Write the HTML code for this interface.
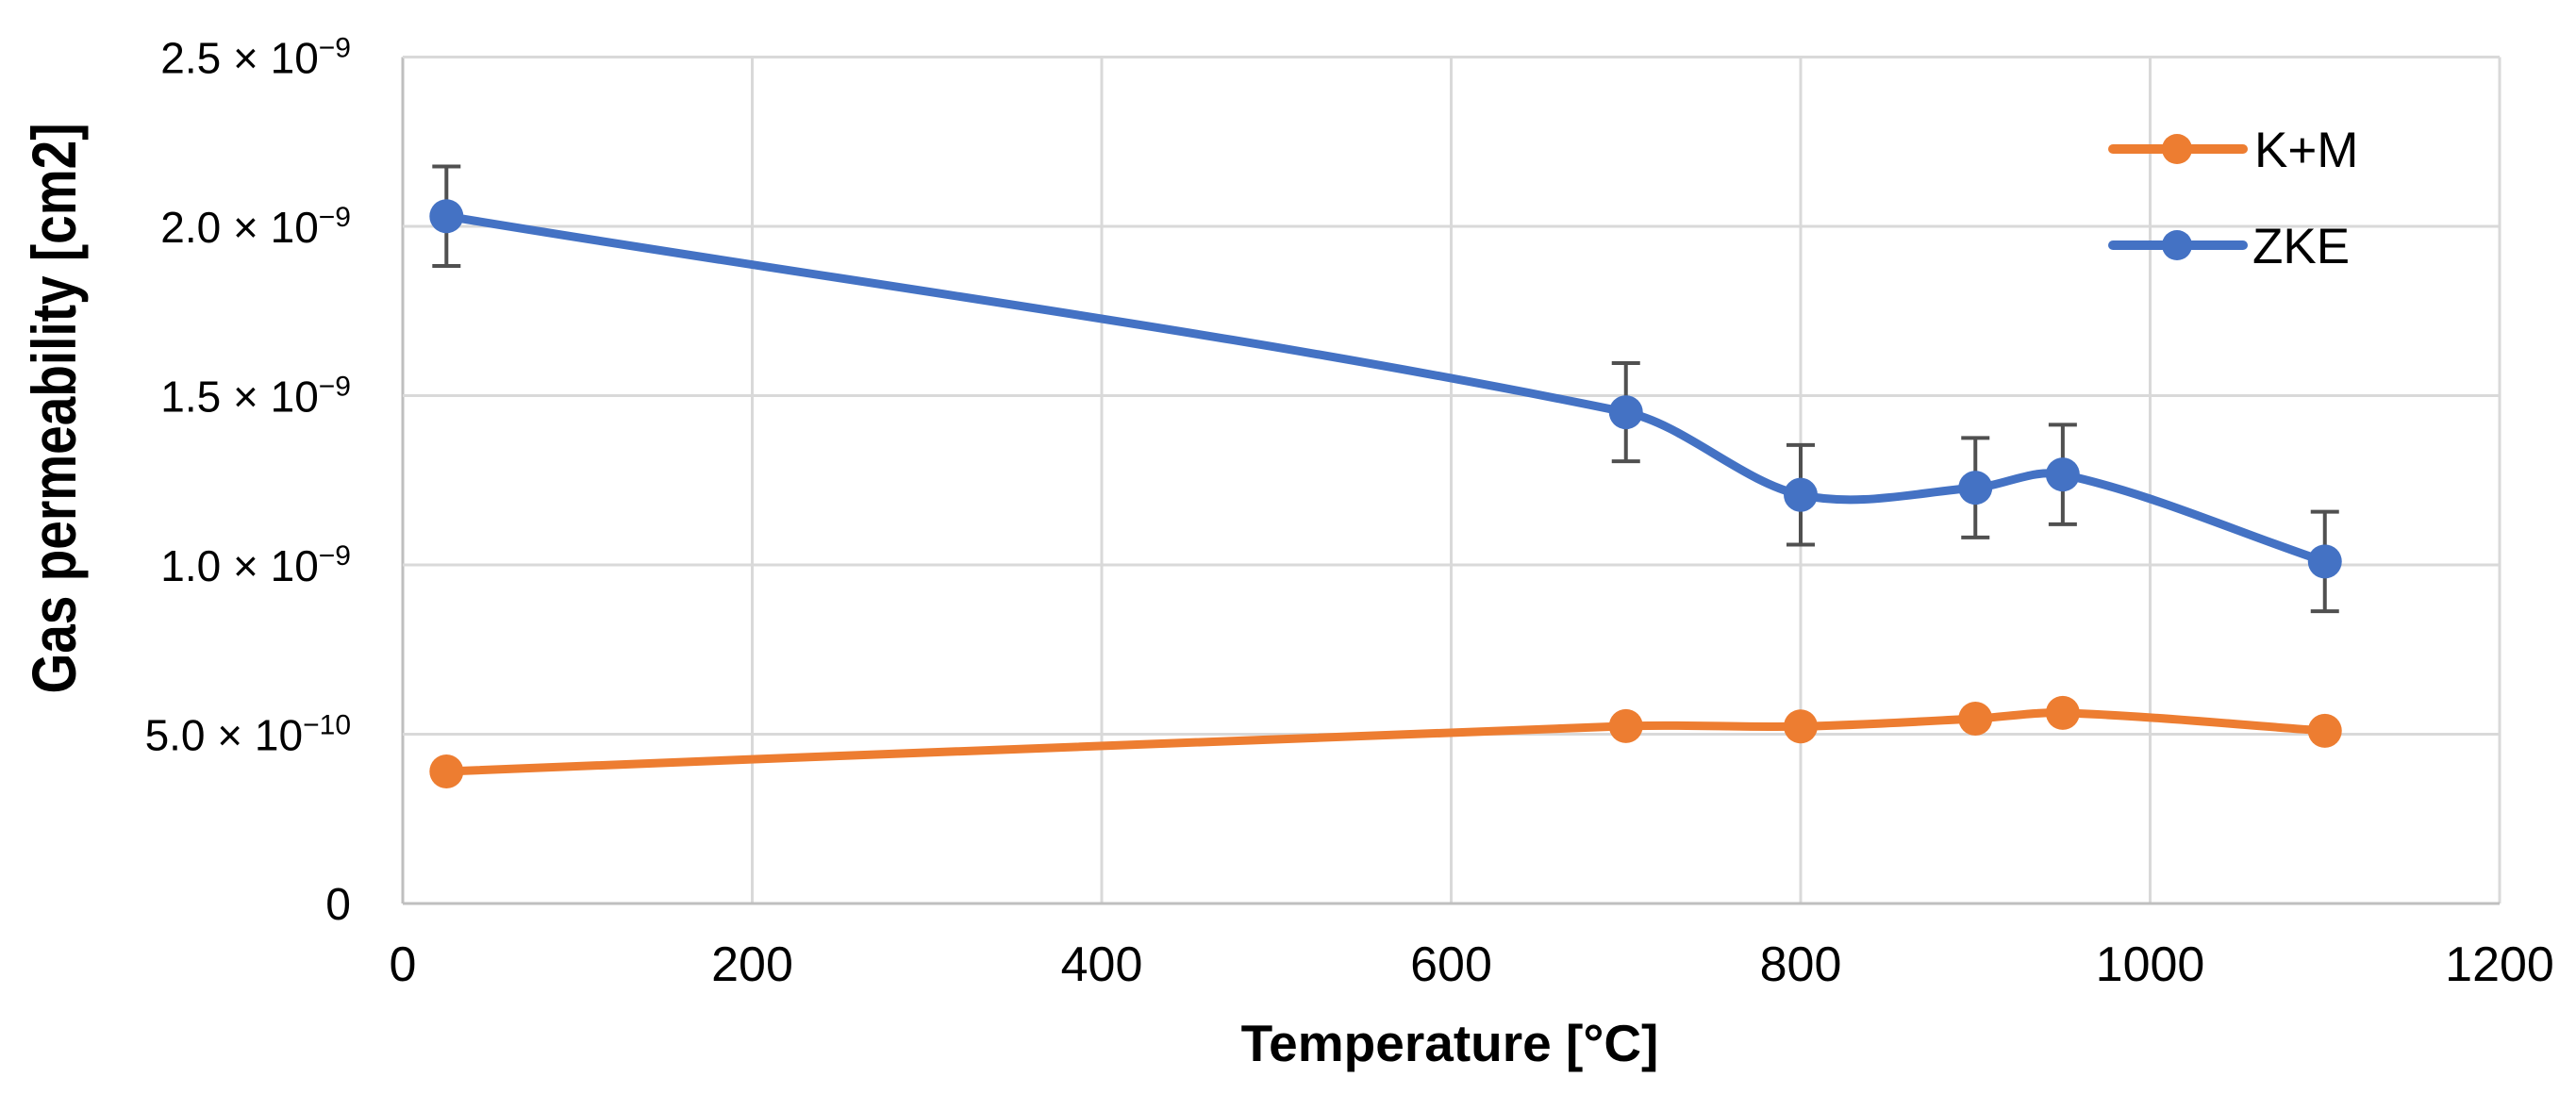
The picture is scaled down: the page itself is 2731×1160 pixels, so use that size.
<!DOCTYPE html>
<html><head><meta charset="utf-8"><style>
html,body{margin:0;padding:0;background:#fff;}
svg{display:block;}
text{font-family:"Liberation Sans",Arial,sans-serif;fill:#000;}
</style></head><body>
<svg id="chart" width="2731" height="1160" viewBox="0 0 2731 1160" xmlns="http://www.w3.org/2000/svg">
<g id="grid"></g>
<g id="axes"></g>
<g id="series"></g>
<text x="1537" y="1125" font-size="55" font-weight="bold" text-anchor="middle">Temperature [°C]</text>
<text transform="translate(80,433) rotate(-90) scale(1,1.2)" font-size="55" font-weight="bold" text-anchor="middle">Gas permeability [cm2]</text>
<g>
  <g>
    <line x1="2240" y1="158" x2="2378" y2="158" stroke="#ED7D31" stroke-width="10" stroke-linecap="round"/>
    <circle cx="2308" cy="158" r="16" fill="#ED7D31"/>
    <text x="2390" y="177" font-size="53">K+M</text>
  </g>
  <g>
    <line x1="2240" y1="260" x2="2378" y2="260" stroke="#4472C4" stroke-width="10" stroke-linecap="round"/>
    <circle cx="2308" cy="260" r="16" fill="#4472C4"/>
    <text x="2388" y="279" font-size="53">ZKE</text>
  </g>
</g>
</svg>
<script>
const temps = [25, 700, 800, 900, 950, 1100];
const zke = [2.03, 1.451, 1.207, 1.228, 1.267, 1.01];
const zkeErr = [0.147, 0.145, 0.147, 0.147, 0.147, 0.147];
const km = [0.39, 0.524, 0.523, 0.546, 0.563, 0.51];
const xTicks = [0, 200, 400, 600, 800, 1000, 1200];
const yTicks = [0, 0.5, 1.0, 1.5, 2.0, 2.5];
const yMant = ["0", "5.0", "1.0", "1.5", "2.0", "2.5"];
const yExp = ["", "−10", "−9", "−9", "−9", "−9"];

const NS = "http://www.w3.org/2000/svg";
const X0 = 427, X1 = 2650, Y0 = 958, Y1 = 60.5;
const xs = v => X0 + (v - 0) / 1200 * (X1 - X0);
const ys = v => Y0 - v / 2.5 * (Y0 - Y1);
function mk(tag, attrs, parent) {
  const e = document.createElementNS(NS, tag);
  for (const k in attrs) e.setAttribute(k, attrs[k]);
  parent.appendChild(e);
  return e;
}
const grid = document.getElementById('grid');
const axes = document.getElementById('axes');
const series = document.getElementById('series');

xTicks.forEach((t, i) => {
  const l = mk('line', {x1: xs(t), x2: xs(t), y1: Y1, y2: Y0, stroke: i === 0 ? '#bfbfbf' : '#d9d9d9', 'stroke-width': 3}, grid);
  
  
  const tx = mk('text', {x: xs(t), y: 1040, 'font-size': 52, 'text-anchor': 'middle'}, axes);
  tx.textContent = t;
  
  
});
yTicks.forEach((t, i) => {
  const l = mk('line', {x1: X0, x2: X1, y1: ys(t), y2: ys(t), stroke: i === 0 ? '#bfbfbf' : '#d9d9d9', 'stroke-width': 3}, grid);
  
  
  const tx = mk('text', {x: 372, y: ys(t) + 17, 'text-anchor': 'end', 'font-size': i === 0 ? 48 : 46}, axes);
  
  
  if (yExp[i]) {
    const a = mk('tspan', {}, tx); a.textContent = yMant[i] + ' × 10';
    const b = mk('tspan', {dy: -17, 'font-size': 30}, tx); b.textContent = yExp[i];
  } else {
    tx.textContent = yMant[i];
  }
});

function smoothPath(pts) {
  const n = pts.length;
  const m = pts.map((p, i) => {
    const a = pts[Math.max(0, i - 1)], b = pts[Math.min(n - 1, i + 1)];
    return (b[1] - a[1]) / (b[0] - a[0]);
  });
  let d = `M${pts[0][0]},${pts[0][1]}`;
  for (let i = 0; i < n - 1; i++) {
    const p1 = pts[i], p2 = pts[i + 1];
    const dx = (p2[0] - p1[0]) / 3;
    d += ` C${p1[0] + dx},${p1[1] + m[i] * dx} ${p2[0] - dx},${p2[1] - m[i + 1] * dx} ${p2[0]},${p2[1]}`;
  }
  return d;
}
function drawSeries(vals, color, name, errs) {
  const pts = temps.map((t, i) => [xs(t), ys(vals[i])]);
  if (errs) {
    temps.forEach((t, i) => {
      const x = xs(t), yt = ys(vals[i] + errs[i]), yb = ys(vals[i] - errs[i]);
      const g = mk('g', {stroke: '#505050', 'stroke-width': 4}, series);
      
      
      mk('line', {x1: x, x2: x, y1: yt, y2: yb}, g);
      mk('line', {x1: x - 15, x2: x + 15, y1: yt, y2: yt}, g);
      mk('line', {x1: x - 15, x2: x + 15, y1: yb, y2: yb}, g);
    });
  }
  const p = mk('path', {d: smoothPath(pts), fill: 'none', stroke: color, 'stroke-width': 9, 'stroke-linejoin': 'round'}, series);
  
  
  pts.forEach(pt => {
    const c = mk('circle', {cx: pt[0], cy: pt[1], r: 18, fill: color}, series);
    
    
  });
}
drawSeries(km, '#ED7D31', 'km');
drawSeries(zke, '#4472C4', 'zke', zkeErr);
</script>
</body></html>
